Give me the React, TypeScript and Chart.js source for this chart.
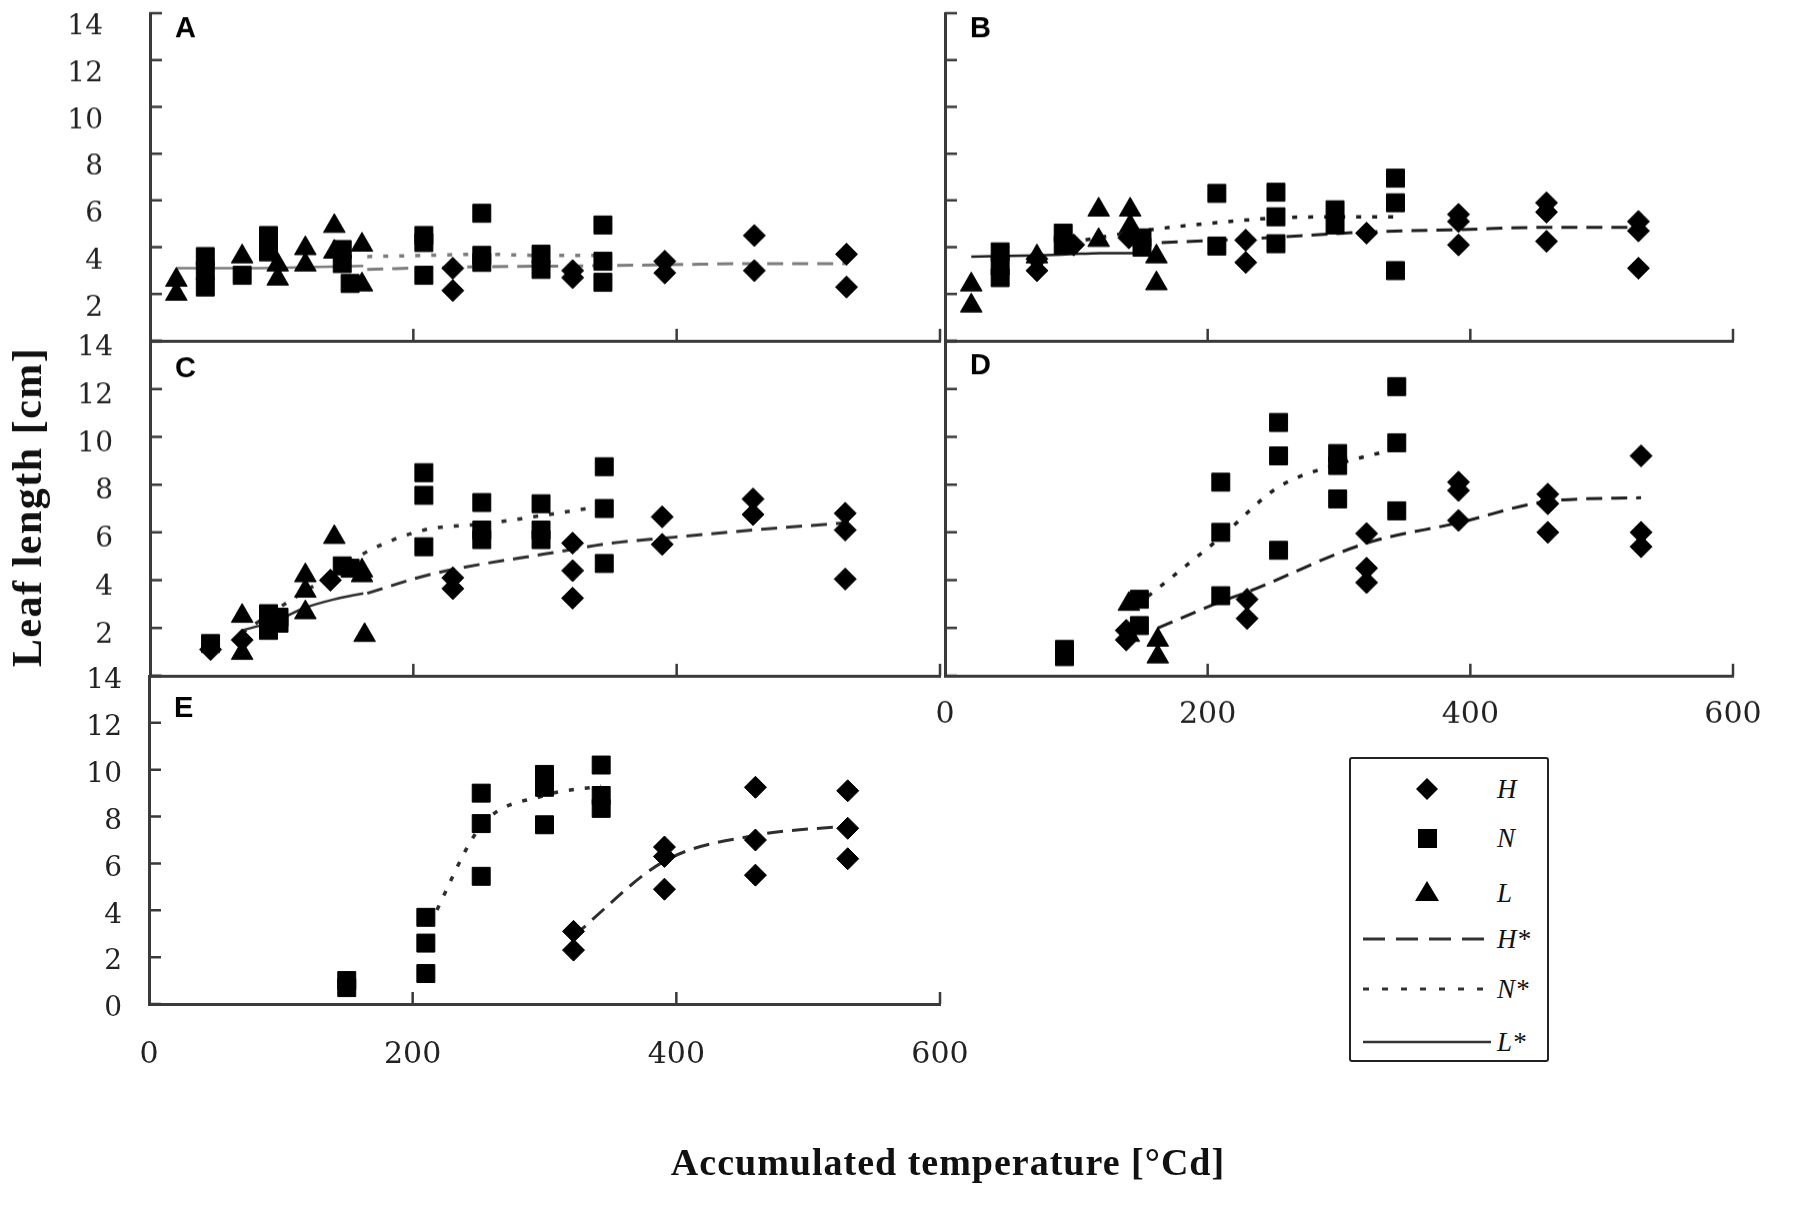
import { useEffect, useRef } from "react";
import { Chart, registerables } from "chart.js";

Chart.register(...registerables);

type Pt = [number, number];

const xTicks = [0, 200, 400, 600];
const yTicks = [0, 2, 4, 6, 8, 10, 12, 14];

const markerNames = ["H", "N", "L"];
const fitNames = ["H*", "N*", "L*"];

// panel A
const aH: Pt[] = [[230, 3.1], [230, 2.15], [321, 3.0], [321, 2.7], [391, 3.4], [391, 2.9], [459, 4.5], [459, 3.0], [529, 3.7], [529, 2.3]];
const aN: Pt[] = [[42, 3.6], [42, 3.0], [42, 2.3], [70, 2.8], [90, 4.5], [90, 3.8], [146, 3.9], [146, 3.3], [152, 2.45], [208, 4.5], [208, 4.2], [208, 2.8], [252, 5.45], [252, 3.65], [252, 3.35], [297, 3.7], [297, 3.05], [344, 4.95], [344, 3.4], [344, 2.5]];
const aL: Pt[] = [[20, 2.6], [20, 2.0], [70, 3.6], [97, 3.25], [97, 2.65], [118, 3.95], [118, 3.25], [140, 4.9], [140, 3.8], [161, 4.1], [161, 2.4]];
const aHFit: Pt[] = [[165, 3.05], [230, 3.15], [321, 3.2], [391, 3.25], [459, 3.3], [529, 3.3]];
const aNFit: Pt[] = [[165, 3.6], [208, 3.65], [252, 3.7], [297, 3.65], [344, 3.65]];
const aLFit: Pt[] = [[20, 3.1], [70, 3.1], [118, 3.15], [162, 3.2]];

// panel B
const bH: Pt[] = [[70, 3.5], [70, 3.0], [98, 4.1], [140, 4.4], [229, 4.3], [229, 3.35], [321, 4.6], [391, 5.4], [391, 5.1], [391, 4.1], [458, 5.9], [458, 5.5], [458, 4.25], [528, 5.1], [528, 4.7], [528, 3.1]];
const bN: Pt[] = [[42, 3.8], [42, 3.2], [42, 2.7], [90, 4.6], [90, 4.1], [150, 4.4], [150, 4.0], [207, 6.3], [207, 4.05], [252, 6.35], [252, 5.3], [252, 4.15], [297, 5.6], [297, 4.95], [343, 6.95], [343, 5.9], [343, 3.0]];
const bL: Pt[] = [[20, 2.4], [20, 1.5], [70, 3.6], [117, 5.6], [117, 4.3], [141, 5.6], [141, 4.9], [161, 3.6], [161, 2.45]];
const bHFit: Pt[] = [[165, 4.2], [229, 4.35], [321, 4.65], [391, 4.75], [459, 4.85], [529, 4.85]];
const bNFit: Pt[] = [[95, 4.2], [150, 4.7], [207, 5.05], [252, 5.25], [297, 5.3], [343, 5.3]];
const bLFit: Pt[] = [[20, 3.6], [70, 3.65], [95, 3.7], [118, 3.75], [162, 3.75]];

// panel C
const cH: Pt[] = [[46, 1.1], [70, 1.5], [137, 4.0], [230, 4.1], [230, 3.65], [321, 5.55], [321, 4.4], [321, 3.25], [389, 6.65], [389, 5.5], [458, 7.4], [458, 6.75], [528, 6.8], [528, 6.1], [528, 4.05]];
const cN: Pt[] = [[46, 1.35], [90, 2.6], [90, 1.9], [98, 2.45], [98, 2.2], [146, 4.6], [152, 4.5], [208, 8.5], [208, 7.55], [208, 5.4], [252, 7.25], [252, 6.1], [252, 5.7], [297, 7.2], [297, 6.1], [297, 5.7], [345, 8.75], [345, 7.0], [345, 4.7]];
const cL: Pt[] = [[70, 2.5], [70, 0.95], [118, 4.2], [118, 3.55], [118, 2.65], [140, 5.8], [161, 4.4], [161, 4.2], [163, 1.7]];
const cHFit: Pt[] = [[165, 3.45], [203, 4.1], [230, 4.45], [300, 5.1], [351, 5.55], [398, 5.8], [458, 6.1], [528, 6.4]];
const cNFit: Pt[] = [[70, 1.8], [105, 3.1], [140, 4.3], [165, 5.2], [208, 6.1], [252, 6.35], [297, 6.7], [344, 7.1]];
const cLFit: Pt[] = [[70, 1.9], [95, 2.3], [118, 2.85], [140, 3.2], [162, 3.45]];

// panel D
const dH: Pt[] = [[138, 1.9], [138, 1.5], [230, 3.2], [230, 2.4], [321, 5.95], [321, 4.5], [321, 3.9], [391, 8.1], [391, 7.75], [391, 6.5], [459, 7.6], [459, 7.2], [459, 6.0], [530, 9.2], [530, 6.0], [530, 5.4]];
const dN: Pt[] = [[91, 1.1], [91, 0.8], [148, 3.2], [148, 2.1], [210, 8.1], [210, 6.0], [210, 3.35], [254, 10.6], [254, 9.2], [254, 5.25], [299, 9.3], [299, 8.8], [299, 7.4], [344, 12.1], [344, 9.75], [344, 6.9]];
const dL: Pt[] = [[140, 3.0], [140, 1.7], [162, 1.5], [162, 0.8]];
const dHFit: Pt[] = [[162, 2.0], [210, 3.1], [230, 3.5], [321, 5.55], [391, 6.4], [459, 7.3], [530, 7.45]];
const dNFit: Pt[] = [[145, 2.9], [210, 5.8], [254, 7.9], [299, 8.85], [344, 9.5]];

// panel E
const eH: Pt[] = [[322, 3.1], [322, 2.3], [391, 6.7], [391, 6.3], [391, 4.9], [460, 9.25], [460, 7.0], [460, 5.5], [530, 9.1], [530, 7.5], [530, 6.2]];
const eN: Pt[] = [[150, 1.0], [150, 0.7], [210, 3.7], [210, 2.6], [210, 1.3], [252, 9.0], [252, 7.7], [252, 5.45], [300, 9.8], [300, 9.25], [300, 7.65], [343, 10.2], [343, 8.9], [343, 8.35]];
const eHFit: Pt[] = [[322, 2.9], [391, 6.1], [460, 7.2], [530, 7.6]];
const eNFit: Pt[] = [[213, 3.4], [252, 7.6], [300, 8.9], [343, 9.3]];

// generous outer padding so tick-label overflow never shrinks the plot area
const PAD_T = 90;
const PAD_R = 90;
const PAD_B = 80;
const AXIS = "#3a3a3a";
const TICK_FONT = '"DejaVu Serif", serif';

type PanelCfg = {
  letter: string;
  letterBase: number;
  left: number;
  top: number;
  right: number;
  bottom: number;
  yWidth: number;
  xHeight: number;
  yLabels: boolean;
  hideZero: boolean;
  yPad: number;
  yOffset: number;
  xLabels: boolean;
  xPad: number;
  lineColor: string;
  H: Pt[];
  N: Pt[];
  L: Pt[];
  HFit: Pt[];
  NFit: Pt[];
  LFit: Pt[];
};

const panels: PanelCfg[] = [
  { letter: "A", letterBase: 24, left: 150, top: 13, right: 940, bottom: 340.5, yWidth: 150, xHeight: 20, yLabels: true, hideZero: true, yPad: 47, yOffset: 14, xLabels: false, xPad: 0, lineColor: "#7c7c7c", H: aH, N: aN, L: aL, HFit: aHFit, NFit: aNFit, LFit: aLFit },
  { letter: "B", letterBase: 24, left: 945, top: 13, right: 1733, bottom: 340.5, yWidth: 70, xHeight: 20, yLabels: false, hideZero: true, yPad: 0, yOffset: 0, xLabels: false, xPad: 0, lineColor: "#1e1e1e", H: bH, N: bN, L: bL, HFit: bHFit, NFit: bNFit, LFit: bLFit },
  { letter: "C", letterBase: 36, left: 150, top: 341, right: 940, bottom: 675.5, yWidth: 150, xHeight: 20, yLabels: true, hideZero: true, yPad: 37, yOffset: 7, xLabels: false, xPad: 0, lineColor: "#2e2e2e", H: cH, N: cN, L: cL, HFit: cHFit, NFit: cNFit, LFit: cLFit },
  { letter: "D", letterBase: 33, left: 945, top: 341, right: 1733, bottom: 675.5, yWidth: 70, xHeight: 70, yLabels: false, hideZero: true, yPad: 0, yOffset: 0, xLabels: true, xPad: 21, lineColor: "#1e1e1e", H: dH, N: dN, L: dL, HFit: dHFit, NFit: dNFit, LFit: [] },
  { letter: "E", letterBase: 41, left: 149, top: 675.5, right: 940, bottom: 1004, yWidth: 150, xHeight: 100, yLabels: true, hideZero: false, yPad: 27, yOffset: 5, xLabels: true, xPad: 33, lineColor: "#2e2e2e", H: eH, N: eN, L: [], HFit: eHFit, NFit: eNFit, LFit: [] },
];

const toXY = (pts: Pt[]) => pts.map(([x, y]) => ({ x, y }));

const panelMarks = {
  id: "panelMarks",
  afterDatasetsDraw(chart: any, _args: any, opts: any) {
    const { ctx, chartArea } = chart;
    const xs = chart.scales.x;
    const ys = chart.scales.y;
    ctx.save();
    ctx.strokeStyle = AXIS;
    ctx.lineWidth = 2.5;
    ctx.beginPath();
    xs.ticks.forEach((t: any) => {
      if (t.value === 0) return;
      const px = xs.getPixelForValue(t.value);
      ctx.moveTo(px, chartArea.bottom);
      ctx.lineTo(px, chartArea.bottom - 12);
    });
    ys.ticks.forEach((t: any) => {
      const py = ys.getPixelForValue(t.value);
      ctx.moveTo(chartArea.left, py);
      ctx.lineTo(chartArea.left + 12, py);
    });
    ctx.stroke();
    ctx.fillStyle = "#000";
    ctx.font = 'bold 29px "Liberation Sans", Arial, sans-serif';
    ctx.textBaseline = "alphabetic";
    ctx.textAlign = "left";
    ctx.fillText(opts.letter, chartArea.left + 25, chartArea.top + opts.base);
    ctx.restore();
  },
};

function markerSet(pts: Pt[], label: string, style: string, radius: number) {
  return {
    label,
    data: toXY(pts),
    pointStyle: style,
    pointRadius: radius,
    pointBackgroundColor: "#000",
    pointBorderColor: "#000",
    pointBorderWidth: 1,
    showLine: false,
    clip: false,
    order: 0,
  };
}

function fitSet(pts: Pt[], label: string, color: string, dash: number[], width: number) {
  return {
    label,
    data: toXY(pts),
    showLine: true,
    pointRadius: 0,
    borderColor: color,
    borderWidth: width,
    borderDash: dash,
    cubicInterpolationMode: "monotone",
    fill: false,
    clip: false,
    order: 1,
  };
}

function Panel({ cfg }: { cfg: PanelCfg }) {
  const canvasRef = useRef<HTMLCanvasElement | null>(null);
  const width = cfg.yWidth + (cfg.right - cfg.left) + PAD_R;
  const height = PAD_T + (cfg.bottom - cfg.top) + cfg.xHeight + PAD_B;

  useEffect(() => {
    const canvas = canvasRef.current;
    if (!canvas) {
      return;
    }

    const chart = new Chart(canvas, {
      type: "scatter",
      data: {
        datasets: [
          markerSet(cfg.H, markerNames[0], "rectRot", 11),
          markerSet(cfg.N, markerNames[1], "rect", 12.7),
          markerSet(cfg.L, markerNames[2], "triangle", 12.5),
          fitSet(cfg.HFit, fitNames[0], cfg.lineColor, [16, 9], 3),
          fitSet(cfg.NFit, fitNames[1], cfg.lineColor, [5, 11], 3.5),
          fitSet(cfg.LFit, fitNames[2], cfg.lineColor, [], 2.5),
        ],
      } as any,
      options: {
        responsive: false,
        animation: false,
        layout: { padding: { top: PAD_T, right: PAD_R, left: 0, bottom: PAD_B } },
        plugins: {
          legend: { display: false },
          tooltip: { enabled: false },
          panelMarks: { letter: cfg.letter, base: cfg.letterBase },
        } as any,
        scales: {
          x: {
            type: "linear",
            min: 0,
            max: 600,
            grid: { display: false, drawTicks: false },
            border: { display: true, color: AXIS, width: 3 },
            ticks: {
              display: cfg.xLabels,
              padding: cfg.xPad,
              color: "#222",
              font: { family: TICK_FONT, size: 30 },
              maxRotation: 0,
              autoSkip: false,
            },
            afterBuildTicks: (scale: any) => {
              scale.ticks = xTicks.map((value) => ({ value }));
            },
            afterFit: (scale: any) => {
              scale.height = cfg.xHeight;
            },
          },
          y: {
            type: "linear",
            min: 0,
            max: 14,
            grid: { display: false, drawTicks: false },
            border: { display: true, color: AXIS, width: 3 },
            ticks: {
              display: cfg.yLabels,
              padding: cfg.yPad,
              labelOffset: cfg.yOffset,
              color: "#222",
              font: { family: TICK_FONT, size: 28 },
              callback: (value: any) =>
                cfg.hideZero && Number(value) === 0 ? "" : String(value),
            },
            afterBuildTicks: (scale: any) => {
              scale.ticks = yTicks.map((value) => ({ value }));
            },
            afterFit: (scale: any) => {
              scale.width = cfg.yWidth;
            },
          },
        },
      } as any,
      plugins: [panelMarks],
    });

    return () => {
      chart.destroy();
    };
  }, [cfg]);

  return (
    <canvas
      ref={canvasRef}
      width={width}
      height={height}
      style={{
        position: "absolute",
        left: cfg.left - cfg.yWidth,
        top: cfg.top - PAD_T,
        width,
        height,
      }}
    />
  );
}

const legendRows = [
  { label: "H", kind: "diamond", y: 30 },
  { label: "N", kind: "square", y: 79 },
  { label: "L", kind: "triangle", y: 134 },
  { label: "H*", kind: "dash", y: 180 },
  { label: "N*", kind: "dot", y: 230 },
  { label: "L*", kind: "solid", y: 283 },
];

function LegendMark({ kind }: { kind: string }) {
  if (kind === "diamond") {
    return (
      <svg width="22" height="22" style={{ position: "absolute", left: 65, top: -11 }}>
        <polygon points="11,0 22,11 11,22 0,11" fill="#000" />
      </svg>
    );
  }
  if (kind === "square") {
    return (
      <svg width="19" height="19" style={{ position: "absolute", left: 66.5, top: -9.5 }}>
        <rect x="0" y="0" width="19" height="19" fill="#000" />
      </svg>
    );
  }
  if (kind === "triangle") {
    return (
      <svg width="24" height="20" style={{ position: "absolute", left: 64, top: -12 }}>
        <polygon points="12,0 24,20 0,20" fill="#000" />
      </svg>
    );
  }
  const dash = kind === "dash" ? "22 11" : kind === "dot" ? "6 13" : "none";
  return (
    <svg width="128" height="6" style={{ position: "absolute", left: 12, top: -3 }}>
      <line x1="0" y1="3" x2="128" y2="3" stroke="#333" strokeWidth={kind === "solid" ? 2.5 : 3} strokeDasharray={dash} />
    </svg>
  );
}

function Legend() {
  return (
    <div
      style={{
        position: "absolute",
        left: 1349,
        top: 757,
        width: 200,
        height: 305,
        border: "2.5px solid #222",
        borderRadius: 3,
        boxSizing: "border-box",
        background: "#fff",
        fontFamily: '"Liberation Serif", "Times New Roman", serif',
        fontStyle: "italic",
        fontSize: 27,
        color: "#111",
      }}
    >
      {legendRows.map((row) => (
        <div key={row.label} style={{ position: "absolute", left: 0, top: row.y, width: "100%" }}>
          <LegendMark kind={row.kind} />
          <span style={{ position: "absolute", left: 146, top: -16, lineHeight: "32px", whiteSpace: "nowrap" }}>
            {row.label}
          </span>
        </div>
      ))}
    </div>
  );
}

export default function App() {
  return (
    <div
      style={{
        position: "absolute",
        left: 0,
        top: 0,
        width: 1800,
        height: 1215,
        overflow: "hidden",
        background: "#fff",
      }}
    >
      {panels.map((cfg) => (
        <Panel key={cfg.letter} cfg={cfg} />
      ))}
      <Legend />
      <div
        style={{
          position: "absolute",
          left: 27,
          top: 507,
          transform: "translate(-50%, -50%) rotate(-90deg)",
          whiteSpace: "nowrap",
          fontFamily: '"Liberation Serif", "Times New Roman", serif',
          fontWeight: "bold",
          fontSize: 42,
          letterSpacing: 1.5,
          color: "#111",
        }}
      >
        Leaf length [cm]
      </div>
      <div
        style={{
          position: "absolute",
          left: 948,
          top: 1162,
          transform: "translate(-50%, -50%)",
          whiteSpace: "nowrap",
          fontFamily: '"Liberation Serif", "Times New Roman", serif',
          fontWeight: "bold",
          fontSize: 38,
          letterSpacing: 1,
          color: "#111",
        }}
      >
        Accumulated temperature [°Cd]
      </div>
    </div>
  );
}
